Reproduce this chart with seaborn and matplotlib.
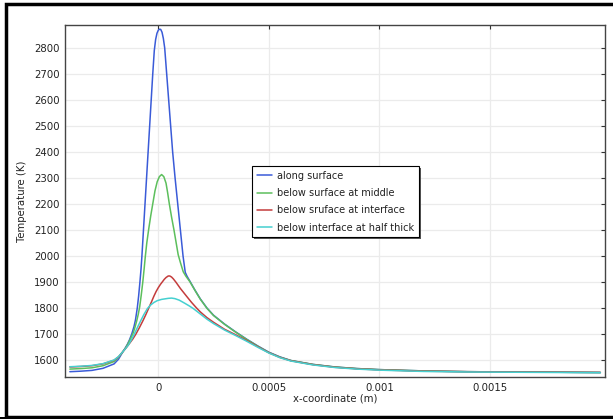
import matplotlib
matplotlib.use("Agg")
import matplotlib.pyplot as plt
from matplotlib.patches import Rectangle
import numpy as np
import pandas as pd
import seaborn as sns

# Temperature profiles along the x-coordinate (positions in micrometres, T in K)
blue_x = [-400, -350, -300, -250, -200, -180, -160, -150, -140, -130, -120, -110, -103, -95,
          -89, -83, -78, -74, -67, -60, -53, -46, -39, -32, -25, -18, -12, -6, 0, 6, 11, 17,
          23, 29, 38, 47, 56, 65, 76, 88, 100, 112, 122, 130, 143, 165, 190, 220, 250, 300,
          350, 400, 450, 500, 550, 600, 700, 800, 900, 1000, 1200, 1400, 1600, 1800, 2000]
blue_T = [1555, 1557, 1560, 1568, 1585, 1603, 1632, 1645, 1660, 1678, 1700, 1728, 1755, 1800,
          1845, 1900, 1950, 2000, 2100, 2200, 2300, 2400, 2500, 2600, 2700, 2790, 2832, 2856,
          2868, 2872, 2871, 2860, 2836, 2800, 2700, 2600, 2500, 2400, 2300, 2200, 2100, 2000,
          1937, 1922, 1903, 1870, 1835, 1800, 1772, 1738, 1708, 1680, 1654, 1630, 1612, 1598,
          1583, 1573, 1567, 1563, 1558, 1555, 1554, 1553, 1552]

green_x = [-400, -350, -300, -250, -200, -180, -160, -150, -140, -130, -120, -113, -105, -97,
           -90, -84, -77, -70, -64, -59, -52, -43, -34, -25, -15, -5, 5, 15, 25, 35, 42, 50,
           60, 71, 80, 90, 100, 113, 125, 143, 165, 190, 220, 250, 300, 350, 400, 450, 500,
           550, 600, 700, 800, 900, 1000, 1200, 1400, 1600, 1800, 2000]
green_T = [1565, 1567, 1570, 1578, 1594, 1610, 1632, 1644, 1658, 1674, 1692, 1705, 1727, 1752,
           1778, 1805, 1850, 1900, 1950, 1995, 2050, 2105, 2155, 2200, 2250, 2285, 2305, 2313,
           2305, 2280, 2245, 2200, 2150, 2100, 2055, 2005, 1975, 1939, 1922, 1901, 1869, 1834,
           1799, 1771, 1737, 1707, 1679, 1653, 1629, 1611, 1598, 1583, 1573, 1567, 1563, 1558,
           1555, 1554, 1553, 1552]

red_x = [-400, -350, -300, -250, -200, -180, -160, -145, -130, -115, -101, -85, -70, -56, -43,
         -31, -20, -10, 0, 10, 19, 27, 35, 45, 52, 60, 68, 80, 90, 100, 115, 130, 150, 173,
         190, 220, 250, 300, 350, 400, 450, 500, 550, 600, 700, 800, 900, 1000, 1200, 1400,
         1600, 1800, 2000]
red_T = [1573, 1575, 1578, 1585, 1599, 1612, 1632, 1647, 1664, 1681, 1700, 1725, 1750, 1775,
         1800, 1823, 1845, 1863, 1878, 1891, 1901, 1910, 1917, 1923, 1923, 1919, 1912, 1899,
         1887, 1875, 1859, 1843, 1822, 1800, 1785, 1763, 1745, 1718, 1697, 1675, 1651, 1628,
         1610, 1597, 1582, 1572, 1566, 1562, 1557, 1555, 1554, 1553, 1552]

cyan_x = [-400, -350, -300, -250, -200, -180, -160, -145, -135, -122, -110, -95, -80, -65,
          -49, -35, -20, -5, 15, 30, 45, 60, 75, 95, 120, 140, 158, 175, 190, 220, 250, 300,
          350, 400, 450, 500, 550, 600, 700, 800, 900, 1000, 1200, 1400, 1600, 1800, 2000]
cyan_T = [1574, 1576, 1579, 1586, 1600, 1613, 1632, 1647, 1658, 1677, 1697, 1724, 1750, 1775,
          1798, 1811, 1821, 1828, 1833, 1835, 1837, 1838, 1836, 1830, 1818, 1808, 1798, 1787,
          1777, 1757, 1740, 1715, 1694, 1672, 1649, 1627, 1609, 1596, 1581, 1571, 1565, 1561,
          1556, 1554, 1553, 1552, 1551]

series_names = ["along surface", "below surface at middle",
                "below sruface at interface", "below interface at half thick"]
series_colors = ["#3a5bd8", "#5cbf5c", "#c43c3c", "#45d0d0"]

x_ticks = [0, 0.0005, 0.001, 0.0015]
x_tick_labels = ["0", "0.0005", "0.001", "0.0015"]
y_ticks = list(range(1600, 2900, 100))

frames = []
for name, xs, ts in zip(series_names, [blue_x, green_x, red_x, cyan_x],
                        [blue_T, green_T, red_T, cyan_T]):
    frames.append(pd.DataFrame({"x": np.array(xs) * 1e-6, "T": ts, "series": name}))
df = pd.concat(frames, ignore_index=True)

sns.set_style("white")
plt.rcParams["font.family"] = ["DejaVu Sans"]

W, H = 613, 419
fig = plt.figure(figsize=(W / 100, H / 100), dpi=100)
ax = fig.add_axes([65 / W, (H - 377) / H, 540 / W, 352 / H])

sns.lineplot(data=df, x="x", y="T", hue="series", hue_order=series_names,
             palette=series_colors, sort=False, estimator=None, linewidth=1.1,
             ax=ax, legend=True)
for ln in ax.get_lines():
    ln.set_solid_joinstyle("round")

ax.set_xlim(-0.000422, 0.002021)
ax.set_ylim(1534.6, 2888)
ax.set_xticks(x_ticks)
ax.set_xticklabels(x_tick_labels)
ax.set_yticks(y_ticks)
ax.grid(True, color="#ebebeb", linewidth=0.9)
ax.set_axisbelow(True)
ax.tick_params(direction="in", length=3, width=0.8, color="#333333",
               top=True, right=True, labelsize=7.3, pad=4, labelcolor="#222222")
for s in ax.spines.values():
    s.set_color("#444444")
    s.set_linewidth(1.0)

ax.set_xlabel("x-coordinate (m)", fontsize=7.3, labelpad=1, color="#222222")
ax.set_ylabel("Temperature (K)", fontsize=7.3, labelpad=5, color="#222222")

handles, labels = ax.get_legend_handles_labels()
leg = ax.legend(handles, labels, loc="upper left", bbox_to_anchor=(0.346, 0.60),
                borderaxespad=0, fontsize=7, frameon=True, fancybox=False,
                edgecolor="black", framealpha=1, shadow=False,
                handlelength=1.6, handletextpad=0.5, labelspacing=0.75,
                borderpad=0.5)
leg.get_frame().set_linewidth(0.8)
for t in leg.get_texts():
    t.set_color("#222222")

# thin drop shadow behind the legend box
fig.canvas.draw()
bb = leg.get_window_extent()
ax.add_patch(Rectangle(((bb.x0 + 2) / W, (bb.y0 - 2) / H), bb.width / W, bb.height / H,
                       transform=fig.transFigure, facecolor="#555555", edgecolor="none",
                       zorder=4.5, clip_on=False))

# screenshot frame
fig.add_artist(Rectangle((6 / W, 2 / H), 1.2, (H - 6.5) / H, transform=fig.transFigure,
                         fill=False, edgecolor="black", linewidth=2.5))
fig.add_artist(Rectangle((0, 0), 1, 2.5 / H, transform=fig.transFigure,
                         facecolor="black", edgecolor="none"))

fig.savefig("out.png", dpi=100)
